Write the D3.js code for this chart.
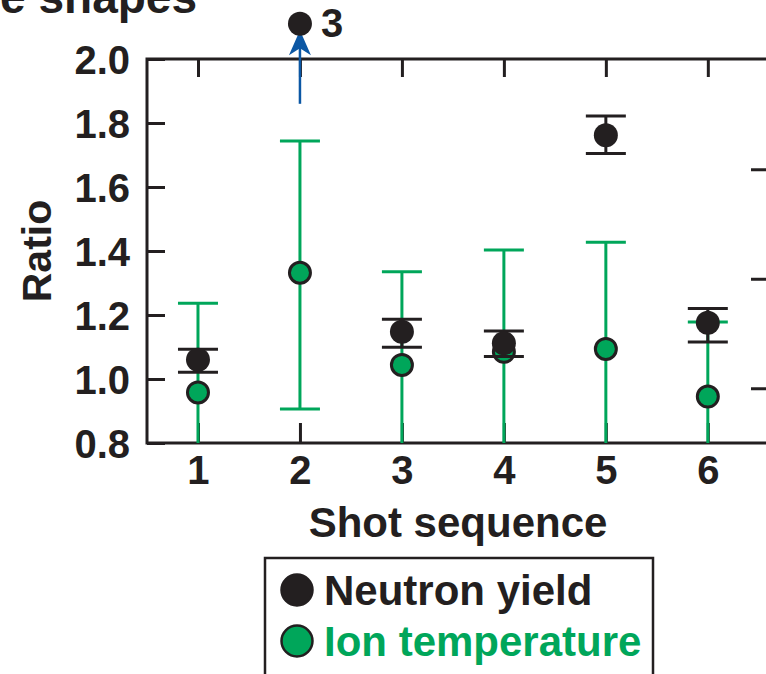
<!DOCTYPE html>
<html>
<head>
<meta charset="utf-8">
<script src="https://cdn.jsdelivr.net/npm/d3@7/dist/d3.min.js"></script>
<style>
  html, body { margin: 0; padding: 0; background: #fff; }
  svg { display: block; }
  text { font-family: "Liberation Sans", Arial, Helvetica, sans-serif; font-weight: bold; }
</style>
</head>
<body>
<script>
// Shot sequence and ratios (shot / reference)
const shots = [1, 2, 3, 4, 5, 6];
const neutronYield    = [1.06, 3,    1.148, 1.112, 1.762, 1.176];
const neutronErrLow   = [1.021, null, 1.099, 1.070, 1.705, 1.116];
const neutronErrHigh  = [1.093, null, 1.187, 1.150, 1.822, 1.220];
const ionTemp         = [0.958, 1.332, 1.044, 1.085, 1.094, 0.945];
const ionErrLow       = [0.679, 0.906, 0.753, 0.767, 0.761, 0.712];
const ionErrHigh      = [1.237, 1.744, 1.335, 1.403, 1.427, 1.178];
const yTicks = [0.8, 1.0, 1.2, 1.4, 1.6, 1.8, 2.0];
const rightTicks = [1, 2, 3];
// Off-scale values are drawn just above the frame, with an arrow
const offScaleRatio = 2.11;
const offArrowFrom = 1.86, offArrowTo = 2.09;

const W = 766, H = 674;
const ink = "#231f20", green = "#00a65a", blue = "#0b57a4";

const svg = d3.select("body").append("svg").attr("width", W).attr("height", H);

const x = d3.scaleLinear().domain([0.5, 6.6]).range([147, 769]);
const y = d3.scaleLinear().domain([0.8, 2.0]).range([443, 59]);
const yRight = d3.scaleLinear().domain([0.5, 4.007]).range([443, 59]);

// partial title text at the top
svg.append("text").attr("x", 197).attr("y", 13).attr("text-anchor", "end")
  .attr("font-size", 46).attr("fill", ink).text("e shapes");

// Axes (ticks pointing inward)
function styleAxis(g) {
  g.selectAll(".domain").remove();
  g.selectAll(".tick line").attr("stroke", ink).attr("stroke-width", 3);
  g.selectAll(".tick text").attr("fill", ink).attr("font-size", 40)
    .attr("font-family", "Liberation Sans, Arial, sans-serif").attr("font-weight", "bold");
}
svg.append("g").attr("transform", `translate(${x.range()[0]},0)`)
  .call(d3.axisLeft(y).tickValues(yTicks).tickFormat(d3.format(".1f")).tickSizeInner(-18).tickSizeOuter(0).tickPadding(17))
  .call(styleAxis)
  .call(g => g.selectAll(".tick text").attr("dy", "0.36em"));
svg.append("g").attr("transform", `translate(0,${y.range()[0]})`)
  .call(d3.axisBottom(x).tickValues(shots).tickFormat(d3.format("d")).tickSizeInner(-20).tickSizeOuter(0).tickPadding(13))
  .call(styleAxis);
svg.append("g").attr("transform", `translate(0,${y.range()[1]})`)
  .call(d3.axisTop(x).tickValues(shots).tickFormat("").tickSizeInner(-18).tickSizeOuter(0))
  .call(styleAxis);
svg.append("g").attr("transform", `translate(${x.range()[1]},0)`)
  .call(d3.axisRight(yRight).tickValues(rightTicks).tickFormat("").tickSizeInner(-18).tickSizeOuter(0))
  .call(styleAxis);

// Frame
svg.append("rect")
  .attr("x", x.range()[0]).attr("y", y.range()[1])
  .attr("width", x.range()[1] - x.range()[0]).attr("height", y.range()[0] - y.range()[1])
  .attr("fill", "none").attr("stroke", ink).attr("stroke-width", 3);

// Clip for data drawn inside the frame
svg.append("clipPath").attr("id", "plotClip").append("rect")
  .attr("x", x.range()[0]).attr("y", y.range()[1])
  .attr("width", x.range()[1] - x.range()[0]).attr("height", y.range()[0] - y.range()[1]);
const plot = svg.append("g").attr("clip-path", "url(#plotClip)");

const capHalf = 20;
function errorBars(g, lows, highs, color) {
  const d = shots.map((s, i) => ({ s, lo: lows[i], hi: highs[i] })).filter(e => e.lo != null);
  const eb = g.append("g").selectAll("g").data(d).join("g");
  eb.append("line").attr("x1", e => x(e.s)).attr("x2", e => x(e.s))
    .attr("y1", e => y(e.lo)).attr("y2", e => y(e.hi))
    .attr("stroke", color).attr("stroke-width", 3);
  ["lo", "hi"].forEach(k => {
    eb.append("line").attr("x1", e => x(e.s) - capHalf).attr("x2", e => x(e.s) + capHalf)
      .attr("y1", e => y(e[k])).attr("y2", e => y(e[k]))
      .attr("stroke", color).attr("stroke-width", 3);
  });
}

// Ion temperature
errorBars(plot, ionErrLow, ionErrHigh, green);
plot.append("g").selectAll("circle").data(shots.map((s, i) => ({ s, v: ionTemp[i] })))
  .join("circle").attr("cx", d => x(d.s)).attr("cy", d => y(d.v)).attr("r", 10.5)
  .attr("fill", green).attr("stroke", ink).attr("stroke-width", 3);

// Neutron yield
errorBars(plot, neutronErrLow, neutronErrHigh, ink);
const ny = shots.map((s, i) => ({ s, v: neutronYield[i] }));
plot.append("g").selectAll("circle").data(ny.filter(d => d.v <= y.domain()[1]))
  .join("circle").attr("cx", d => x(d.s)).attr("cy", d => y(d.v)).attr("r", 12)
  .attr("fill", ink);

// Off-scale neutron yield: marker above frame, value label and arrow
const off = ny.filter(d => d.v > y.domain()[1]);
const og = svg.append("g").selectAll("g").data(off).join("g");
og.append("line").attr("x1", d => x(d.s)).attr("x2", d => x(d.s))
  .attr("y1", y(offArrowFrom)).attr("y2", y(offArrowTo) + 14)
  .attr("stroke", blue).attr("stroke-width", 2.5);
og.append("path")
  .attr("d", d => {
    const cx = x(d.s), ty = y(offArrowTo);
    return `M${cx},${ty} L${cx + 11},${ty + 25} L${cx},${ty + 18} L${cx - 11},${ty + 25} Z`;
  })
  .attr("fill", blue);
og.append("circle").attr("cx", d => x(d.s)).attr("cy", y(offScaleRatio)).attr("r", 12).attr("fill", ink);
og.append("text").attr("x", d => x(d.s) + 21).attr("y", 37)
  .attr("font-size", 40).attr("fill", ink).text(d => d3.format("d")(d.v));

// Axis titles
svg.append("text").attr("transform", `translate(51,${(y.range()[0] + y.range()[1]) / 2}) rotate(-90)`)
  .attr("text-anchor", "middle").attr("font-size", 41).attr("fill", ink).text("Ratio");
svg.append("text").attr("x", (x.range()[0] + x.range()[1]) / 2).attr("y", 537)
  .attr("text-anchor", "middle").attr("font-size", 42).attr("fill", ink).text("Shot sequence");

// Legend
const legend = svg.append("g");
legend.append("rect").attr("x", 265).attr("y", 558).attr("width", 388).attr("height", 140)
  .attr("fill", "#fff").attr("stroke", ink).attr("stroke-width", 2.5);
const legendItems = [
  { label: "Neutron yield", fill: ink, text: ink },
  { label: "Ion temperature", fill: green, text: green }
];
const li = legend.selectAll("g.item").data(legendItems).join("g").attr("class", "item")
  .attr("transform", (d, i) => `translate(0,${590 + i * 51})`);
li.append("circle").attr("cx", 297).attr("cy", 0).attr("r", 15.5)
  .attr("fill", d => d.fill).attr("stroke", ink).attr("stroke-width", 2.5);
li.append("text").attr("x", 324).attr("y", 15).attr("font-size", 42)
  .attr("fill", d => d.text).text(d => d.label);
</script>
</body>
</html>
